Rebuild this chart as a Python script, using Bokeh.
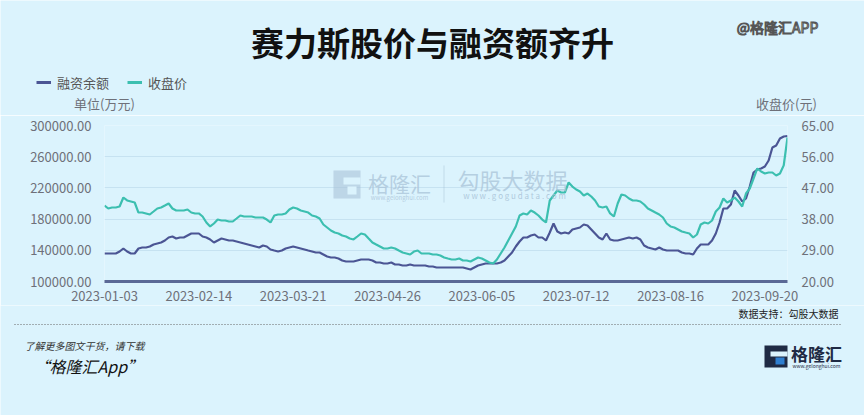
import pandas as pd
from bokeh.plotting import figure
from bokeh.layouts import column
from bokeh.models import (Range1d, LinearAxis, FixedTicker, NumeralTickFormatter,
                          Label, Legend, LegendItem, BoxAnnotation)
from bokeh.embed import file_html
from bokeh.resources import INLINE

# ---------------- data ----------------
holidays = ["2023-01-02", "2023-01-23", "2023-01-24", "2023-01-25", "2023-01-26",
            "2023-01-27", "2023-04-05", "2023-05-01", "2023-05-02", "2023-05-03",
            "2023-06-22", "2023-06-23"]
dates = [d.strftime("%Y-%m-%d") for d in
         pd.bdate_range("2023-01-03", "2023-09-28", freq="C", holidays=holidays)]

# 融资余额 (万元)
financing = [
    135900, 135900, 135900, 135900, 138460, 142310, 138460, 135900, 135900, 142310,
    143590, 143590, 144870, 147440, 148720, 150000, 152560, 156410, 157690, 155130,
    156410, 156410, 158970, 161540, 161540, 161540, 157690, 156410, 153850, 150000,
    152560, 155130, 153850, 152560, 152560, 151280, 150000, 148720, 147440, 146150,
    144870, 143590, 146150, 144870, 141030, 139740, 138460, 139740, 142310, 143590,
    144870, 143590, 142310, 141030, 139740, 138460, 137180, 137180, 134620, 132050,
    130770, 130770, 129490, 126920, 125640, 125640, 125640, 126920, 128210, 128210,
    128210, 126920, 124360, 124360, 123080, 123080, 124360, 121800, 121800, 120510,
    120510, 121800, 120510, 120510, 120510, 120510, 119230, 119230, 117950, 117950,
    117950, 117950, 117950, 117950, 117950, 117950, 116670, 115380, 117950, 120510,
    121800, 123080, 123080, 123080, 123080, 124360, 126920, 132050, 137180, 144870,
    151280, 156410, 156410, 158970, 160260, 156410, 156410, 152560, 162820, 174360,
    164100, 161540, 162820, 161540, 166670, 167950, 169230, 173080, 171800, 166670,
    161540, 156410, 153850, 161540, 153850, 152560, 152560, 153850, 155130, 156410,
    155130, 156410, 153850, 146150, 143590, 142310, 141030, 143590, 141030, 139740,
    139740, 139740, 139740, 137180, 135900, 135900, 134620, 142310, 147440, 147440,
    147440, 152560, 161540, 175640, 193590, 193590, 198720, 216670, 210260, 202560,
    206410, 221790, 239740, 243590, 244870, 247440, 255130, 271790, 274360, 283330,
    285900, 286500,
]

# 收盘价 (元)
close_price = [
    41.92, 41.06, 41.35, 41.35, 41.63, 44.23, 43.37, 43.08, 42.79, 39.90,
    39.90, 39.62, 39.33, 40.19, 41.06, 41.35, 41.92, 42.50, 41.06, 40.48,
    40.48, 40.48, 40.77, 39.90, 39.62, 39.62, 38.75, 37.02, 35.87, 36.73,
    37.88, 37.60, 37.60, 37.31, 37.31, 38.17, 39.04, 38.75, 38.75, 38.75,
    38.46, 38.46, 38.46, 37.88, 37.02, 39.04, 39.33, 39.33, 39.62, 40.77,
    41.35, 41.06, 40.48, 40.19, 39.90, 39.04, 38.75, 38.17, 36.44, 35.58,
    34.71, 34.13, 33.85, 33.27, 32.98, 32.40, 32.12, 32.98, 33.85, 33.56,
    32.40, 31.25, 30.67, 30.10, 29.52, 29.52, 29.81, 29.52, 28.94, 28.37,
    28.08, 27.79, 28.65, 28.94, 28.08, 28.08, 28.08, 27.79, 27.79, 27.50,
    26.92, 26.63, 26.35, 26.35, 26.63, 26.06, 26.06, 25.77, 26.35, 26.92,
    26.63, 26.06, 25.48, 25.19, 26.35, 28.08, 29.81, 31.83, 33.85, 35.87,
    39.04, 39.62, 39.33, 40.48, 39.90, 39.04, 37.88, 37.02, 43.37, 44.81,
    46.25, 45.67, 45.67, 48.56, 47.40, 46.54, 45.96, 44.81, 45.38, 44.52,
    43.37, 41.63, 41.35, 41.63, 39.62, 38.75, 42.50, 45.10, 44.81, 43.94,
    43.37, 43.37, 43.08, 42.21, 41.06, 40.48, 39.90, 39.33, 38.46, 36.73,
    35.87, 35.58, 35.00, 34.42, 34.13, 33.85, 32.69, 33.56, 36.44, 37.02,
    36.73, 37.60, 40.19, 41.35, 43.94, 42.79, 43.37, 44.23, 43.08, 41.63,
    45.38, 46.83, 49.71, 52.60, 51.73, 51.15, 51.44, 51.44, 50.58, 51.15,
    53.50, 61.54,
]

series_names = ["融资余额", "收盘价"]
left_ticks = [100000, 140000, 180000, 220000, 260000, 300000]
right_ticks = [20, 29, 38, 47, 56, 65]
label_step = 25

# ---------------- style ----------------
W = 864
BG = "#dbf3fd"
NAVY = "#4b5594"
TEAL = "#3cbfb0"
AXIS_TXT = "#6e7079"
FONT = "Noto Sans CJK SC"
WM = "#a9c3d8"

n = min(len(dates), len(financing), len(close_price))
xs = list(range(n))
fin = financing[:n]
prc = close_price[:n]

HEAD_H, MAIN_TOP, MAIN_BOT = 115, 115, 305
FRAME_L, FRAME_R, FRAME_T, FRAME_B = 104, 787, 125, 281


def blank(top, bottom):
    f = figure(width=W, height=bottom - top, output_backend="svg", toolbar_location=None,
               x_range=Range1d(0, W), y_range=Range1d(bottom, top),
               x_axis_type=None, y_axis_type=None, min_border=0, frame_align=False,
               background_fill_color=BG, border_fill_color=BG, outline_line_color=None)
    f.grid.visible = False
    return f


def txt(f, x, y, text, size, color="#333", align="left", style="normal", alpha=1.0,
        outline=None):
    kw = dict(x=x, y=y, text=text, text_font=FONT, text_font_size=size,
              text_color=color, text_align=align, text_baseline="middle",
              text_font_style=style, text_alpha=alpha)
    if outline:
        kw["text_outline_color"] = outline
    f.add_layout(Label(**kw))


# ---------------- header ----------------
head = blank(0, HEAD_H)
txt(head, 432, 41, "赛力斯股价与融资额齐升", "33px", "#111", "center", "bold")
txt(head, 777, 26, "@格隆汇APP", "14px", "white", "center", outline="#555")
txt(head, 104, 103, "单位(万元)", "13px", AXIS_TXT, "center")
txt(head, 786, 103, "收盘价(元)", "13px", AXIS_TXT, "center")
h1 = head.line([-50, -40], [-50, -50], line_color=NAVY, line_width=3)
h2 = head.line([-50, -40], [-50, -50], line_color=TEAL, line_width=3)
legend = Legend(items=[LegendItem(label=series_names[0], renderers=[h1]),
                       LegendItem(label=series_names[1], renderers=[h2])],
                orientation="horizontal", location=(36, HEAD_H - 92),
                glyph_width=15, glyph_height=20, label_standoff=6, spacing=18,
                padding=0, margin=0, background_fill_alpha=0, border_line_color=None,
                label_text_font=FONT, label_text_font_size="13px",
                label_text_color="#555")
head.add_layout(legend, "center")

# ---------------- main chart ----------------
p = figure(width=W, height=MAIN_BOT - MAIN_TOP, output_backend="svg",
           toolbar_location=None, frame_align=False,
           x_range=Range1d(0, n - 1), y_range=Range1d(left_ticks[0], left_ticks[-1]),
           min_border_left=FRAME_L, min_border_right=W - FRAME_R,
           min_border_top=FRAME_T - MAIN_TOP, min_border_bottom=MAIN_BOT - FRAME_B,
           background_fill_color=BG, border_fill_color=BG, outline_line_color=None)
p.extra_y_ranges = {"price": Range1d(right_ticks[0], right_ticks[-1])}

tick_idx = list(range(0, n, label_step))
p.xaxis.ticker = FixedTicker(ticks=tick_idx)
p.xaxis.major_label_overrides = {i: dates[i] for i in tick_idx}
p.xaxis.axis_line_color = "#5a6996"
p.xaxis.axis_line_width = 3
p.xaxis.major_tick_line_color = None
p.xaxis.minor_tick_line_color = None
p.xaxis.major_label_standoff = 3
p.xaxis.major_label_text_font = FONT
p.xaxis.major_label_text_font_size = "13px"
p.xaxis.major_label_text_color = AXIS_TXT

p.yaxis.ticker = FixedTicker(ticks=left_ticks)
p.yaxis.formatter = NumeralTickFormatter(format="0.00")
p.yaxis.axis_line_color = None
p.yaxis.major_tick_line_color = None
p.yaxis.minor_tick_line_color = None
p.yaxis.major_label_standoff = 7
p.yaxis.major_label_text_font = FONT
p.yaxis.major_label_text_font_size = "13px"
p.yaxis.major_label_text_color = AXIS_TXT

raxis = LinearAxis(y_range_name="price", ticker=FixedTicker(ticks=right_ticks),
                   formatter=NumeralTickFormatter(format="0.00"))
raxis.axis_line_color = None
raxis.major_tick_line_color = None
raxis.minor_tick_line_color = None
raxis.major_label_standoff = 8
raxis.major_label_text_font = FONT
raxis.major_label_text_font_size = "13px"
raxis.major_label_text_color = AXIS_TXT
p.add_layout(raxis, "right")

p.xgrid.visible = False
p.ygrid.ticker = FixedTicker(ticks=left_ticks[1:])
p.ygrid.grid_line_color = "#c6e2f1"
p.ygrid.grid_line_width = 1


def wlab(px, py, text, size, color, alpha):
    p.add_layout(Label(x=px - FRAME_L, y=FRAME_B - py, x_units="screen", y_units="screen",
                       text=text, text_font=FONT, text_font_size=size, text_color=color,
                       text_align="center", text_baseline="middle", text_alpha=alpha))


def wbox(l, r, t, b, color, alpha=1.0):
    p.add_layout(BoxAnnotation(left=l - FRAME_L, right=r - FRAME_L, top=FRAME_B - t,
                               bottom=FRAME_B - b, left_units="screen",
                               right_units="screen", top_units="screen",
                               bottom_units="screen", fill_color=color, fill_alpha=alpha,
                               line_color=None, level="underlay"))


# watermark
wbox(333, 360, 170, 198, WM, 0.6)
wbox(343, 360, 177, 184, BG, 1.0)
wbox(347, 356, 186, 194, BG, 1.0)
wlab(399, 182, "格隆汇", "21px", WM, 0.75)
wlab(399, 197, "www.gelonghui.com", "6px", WM, 0.8)
wbox(443, 444, 165, 202, WM, 0.5)
wlab(512, 178, "勾股大数据", "22px", WM, 0.75)
wlab(514, 195, "w w w . g o g u d a t a . c o m", "8px", WM, 0.9)

p.line(xs, fin, line_color=NAVY, line_width=2.2)
p.line(xs, prc, y_range_name="price", line_color=TEAL, line_width=2.2)

# ---------------- footer ----------------
foot = blank(MAIN_BOT, 415)
txt(foot, 838, 313, "数据支持：勾股大数据", "10px", "#222", "right")
foot.line([14, 842], [324, 324], line_color="#666", line_dash="1 2", line_width=1)
txt(foot, 24, 345, "了解更多图文干货，请下载", "10px", "#333", "left", "italic")
txt(foot, 33, 365, "“格隆汇App”", "16px", "#111", "left", "italic")
foot.quad(left=[764], right=[787], top=[345], bottom=[367], fill_color="#1f2a44",
          line_color=None)
foot.quad(left=[770], right=[787], top=[351], bottom=[356], fill_color=BG,
          line_color=None)
foot.quad(left=[775], right=[784], top=[357], bottom=[364], fill_color="#2f7fd0",
          line_color=None)
txt(foot, 816, 353, "格隆汇", "17px", "#1f2a44", "center", "bold")
txt(foot, 816, 365, "www.gelonghui.com", "5px", "#1f2a44", "center")

layout = column(head, p, foot, spacing=0)
open("out.html", "w").write(file_html(layout, INLINE))
